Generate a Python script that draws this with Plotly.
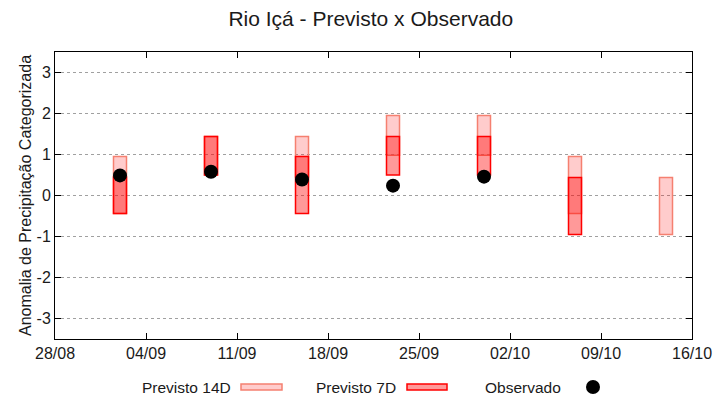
import plotly.graph_objects as go

dates = ["2024-09-02", "2024-09-09", "2024-09-16", "2024-09-23",
         "2024-09-30", "2024-10-07", "2024-10-14"]
p14_low = [-0.44, 0.50, 0.45, 0.98, 0.98, -0.44, -0.95]
p14_high = [0.95, 1.44, 1.44, 1.95, 1.95, 0.95, 0.44]
p7_dates = ["2024-09-02", "2024-09-09", "2024-09-16", "2024-09-23",
            "2024-09-30", "2024-10-07"]
p7_low = [-0.44, 0.50, -0.44, 0.50, 0.50, -0.95]
p7_high = [0.45, 1.44, 0.95, 1.44, 1.44, 0.44]
obs_dates = ["2024-09-02", "2024-09-09", "2024-09-16", "2024-09-23", "2024-09-30"]
obs_vals = [0.49, 0.58, 0.39, 0.24, 0.46]

yticks = [-3, -2, -1, 0, 1, 2, 3]
yticklabels = ["-3", "-2", "-1", "0", "1", "2", "3"]
x_start, x_end = "2024-08-28", "2024-10-16"

DAY = 86400000
FONT = "Liberation Sans, Arial, sans-serif"

fig = go.Figure()
fig.add_trace(go.Bar(
    x=dates, y=[h - l for h, l in zip(p14_high, p14_low)], base=p14_low,
    width=[DAY] * len(dates), name="Previsto 14D",
    marker=dict(color="rgba(255,0,0,0.2)", line=dict(color="#f58070", width=1.5)),
    showlegend=False))
fig.add_trace(go.Bar(
    x=p7_dates, y=[h - l for h, l in zip(p7_high, p7_low)], base=p7_low,
    width=[DAY] * len(p7_dates), name="Previsto 7D",
    marker=dict(color="rgba(255,0,0,0.4)", line=dict(color="#ff0000", width=1.5)),
    showlegend=False))
fig.add_trace(go.Scatter(
    x=obs_dates, y=obs_vals, mode="markers", name="Observado",
    marker=dict(color="black", size=14), showlegend=False))

# custom legend (gnuplot style: text, then sample)
L, R, T, B = 55, 28, 52, 61
W, H = 720 - L - R, 400 - T - B
def px(x):
    return (x - L) / W
def py(y):
    return (400 - B - y) / H

ly = 387
legend_items = [("Previsto 14D", 233, 241, 282, "rgba(255,0,0,0.2)", "#f58070"),
                ("Previsto 7D", 398, 407, 447, "rgba(255,0,0,0.4)", "#ff0000")]
for text, tx, x0, x1, fc, lc in legend_items:
    fig.add_annotation(x=px(tx), y=py(ly), xref="paper", yref="paper", text=text,
                       showarrow=False, xanchor="right", yanchor="middle",
                       font=dict(family=FONT, size=15.5, color="#1a1a1a"))
    fig.add_shape(type="rect", xref="paper", yref="paper",
                  x0=px(x0), x1=px(x1), y0=py(ly - 3), y1=py(ly + 3),
                  fillcolor=fc, line=dict(color=lc, width=1.5))
fig.add_annotation(x=px(563), y=py(ly), xref="paper", yref="paper", text="Observado",
                   showarrow=False, xanchor="right", yanchor="middle",
                   font=dict(family=FONT, size=15.5, color="#1a1a1a"))
fig.add_shape(type="circle", xref="paper", yref="paper",
              x0=px(593 - 7), x1=px(593 + 7), y0=py(ly + 7), y1=py(ly - 7),
              fillcolor="black", line=dict(color="black", width=0))

fig.update_layout(
    width=720, height=400,
    margin=dict(l=L, r=R, t=T, b=B, autoexpand=False),
    paper_bgcolor="white", plot_bgcolor="white",
    barmode="overlay",
    title=dict(text="Rio Içá - Previsto x Observado", x=0.515, xanchor="center",
               y=1 - 19 / 400, yanchor="middle",
               font=dict(family=FONT, size=21, color="#1a1a1a")),
    font=dict(family=FONT, size=16, color="#1a1a1a"),
)
fig.update_xaxes(
    type="date", range=[x_start, x_end], tick0=x_start, dtick=7 * DAY,
    tickformat="%d/%m", ticks="inside", ticklen=6, tickcolor="black",
    showline=True, linecolor="black", linewidth=1, mirror="ticks",
    showgrid=False, zeroline=False, automargin=False,
    tickfont=dict(family=FONT, size=16))
fig.update_yaxes(
    range=[-3.5, 3.5], tickvals=yticks, ticktext=yticklabels,
    ticks="inside", ticklen=6, tickcolor="black",
    showline=True, linecolor="black", linewidth=1, mirror="ticks",
    showgrid=True, gridcolor="#a0a0a0", griddash="3px,3px", gridwidth=1,
    zeroline=False, automargin=False, tickfont=dict(family=FONT, size=16),
    title=dict(text="Anomalia de Precipitação Categorizada", standoff=0,
               font=dict(family=FONT, size=16)))

fig.write_html("out.html", config={"displayModeBar": False},
               post_script="document.body.style.margin='0';")
